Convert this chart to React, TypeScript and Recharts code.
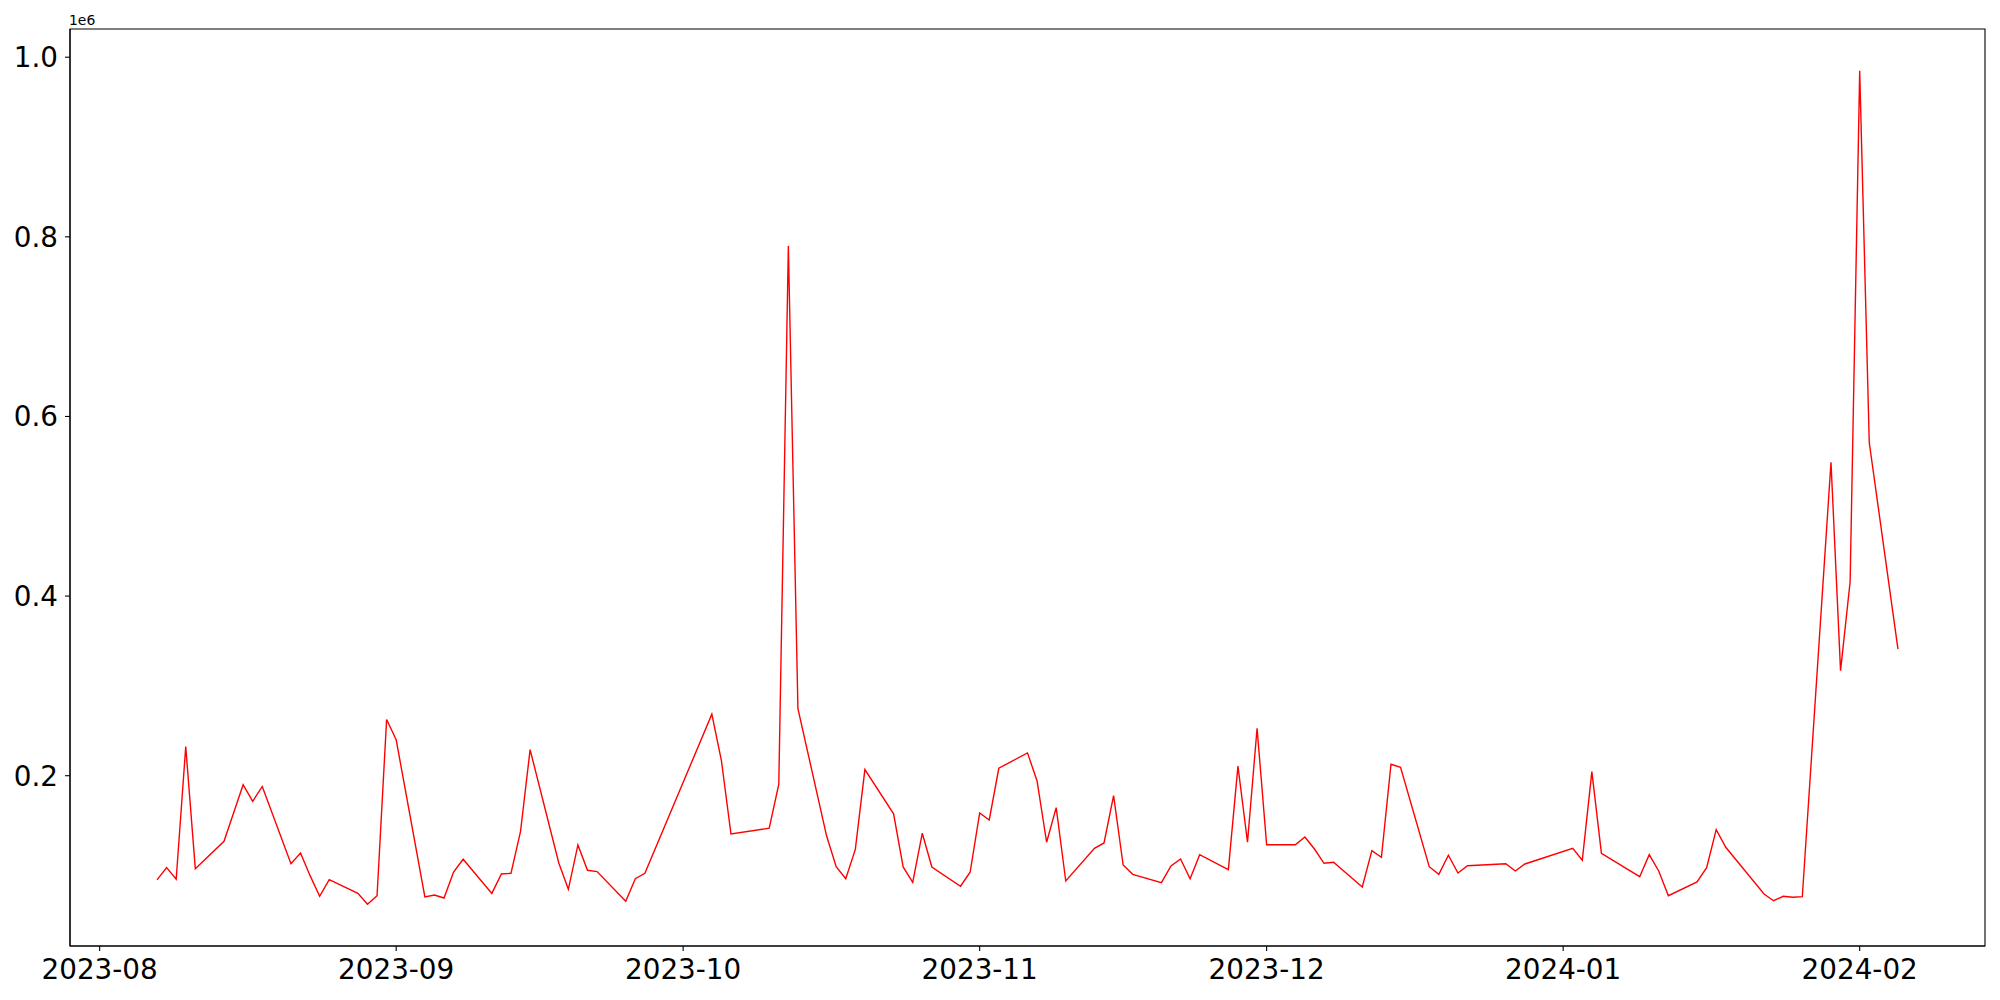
import { LineChart, Line, XAxis, YAxis, ReferenceArea } from 'recharts'

// trading days (KRX) and daily volume
const dates = [
  '2023-08-07', '2023-08-08', '2023-08-09', '2023-08-10', '2023-08-11',
  '2023-08-14', '2023-08-16', '2023-08-17', '2023-08-18',
  '2023-08-21', '2023-08-22', '2023-08-23', '2023-08-24', '2023-08-25',
  '2023-08-28', '2023-08-29', '2023-08-30', '2023-08-31', '2023-09-01',
  '2023-09-04', '2023-09-05', '2023-09-06', '2023-09-07', '2023-09-08',
  '2023-09-11', '2023-09-12', '2023-09-13', '2023-09-14', '2023-09-15',
  '2023-09-18', '2023-09-19', '2023-09-20', '2023-09-21', '2023-09-22',
  '2023-09-25', '2023-09-26', '2023-09-27',
  '2023-10-04', '2023-10-05', '2023-10-06',
  '2023-10-10', '2023-10-11', '2023-10-12', '2023-10-13',
  '2023-10-16', '2023-10-17', '2023-10-18', '2023-10-19', '2023-10-20',
  '2023-10-23', '2023-10-24', '2023-10-25', '2023-10-26', '2023-10-27',
  '2023-10-30', '2023-10-31', '2023-11-01', '2023-11-02', '2023-11-03',
  '2023-11-06', '2023-11-07', '2023-11-08', '2023-11-09', '2023-11-10',
  '2023-11-13', '2023-11-14', '2023-11-15', '2023-11-16', '2023-11-17',
  '2023-11-20', '2023-11-21', '2023-11-22', '2023-11-23', '2023-11-24',
  '2023-11-27', '2023-11-28', '2023-11-29', '2023-11-30', '2023-12-01',
  '2023-12-04', '2023-12-05', '2023-12-06', '2023-12-07', '2023-12-08',
  '2023-12-11', '2023-12-12', '2023-12-13', '2023-12-14', '2023-12-15',
  '2023-12-18', '2023-12-19', '2023-12-20', '2023-12-21', '2023-12-22',
  '2023-12-26', '2023-12-27', '2023-12-28',
  '2024-01-02', '2024-01-03', '2024-01-04', '2024-01-05',
  '2024-01-09', '2024-01-10', '2024-01-11', '2024-01-12',
  '2024-01-15', '2024-01-16', '2024-01-17', '2024-01-18',
  '2024-01-22', '2024-01-23', '2024-01-24', '2024-01-25', '2024-01-26',
  '2024-01-29', '2024-01-30', '2024-01-31', '2024-02-01', '2024-02-02',
  '2024-02-05',
]

const volumes = [
  84000, 97600, 84700, 232400, 96500,
  127000, 190000, 171500, 188000,
  102000, 114000, 88700, 65700, 84200,
  69000, 56800, 66400, 262500, 240000,
  65000, 67200, 63800, 92800, 107000,
  69000, 90600, 91300, 138000, 229000,
  102800, 73500, 122900, 94700, 93200,
  60100, 85400, 91300,
  268500, 216800, 135100,
  141500, 190500, 789700, 274700,
  132800, 98800, 85300, 118000, 206800,
  157600, 98400, 81200, 136000, 98400,
  76900, 92500, 158500, 150700, 208300,
  225400, 194200, 125900, 164500, 82800,
  119200, 125100, 177800, 100600, 90200,
  80900, 99500, 107300, 85300, 112100,
  95400, 210600, 125900, 252900, 123200,
  123200, 131800, 118400, 102500, 103600,
  76100, 116600, 109200, 212800, 209400,
  98700, 90200, 111400, 91700, 99800,
  102000, 93900, 101700,
  119200, 105800, 204500, 113600,
  87600, 112100, 93600, 66400,
  81700, 97600, 140000, 120300,
  68300, 60800, 65700, 64600, 65300,
  549000, 317000, 416000, 985000, 571000,
  341000,
]

const monthTicks = ['2023-08', '2023-09', '2023-10', '2023-11', '2023-12', '2024-01', '2024-02']
const yTicks = [0.2, 0.4, 0.6, 0.8, 1.0]

const toTime = (s: string) => {
  const [y, m, d] = s.split('-').map(Number)
  return Date.UTC(y, m - 1, d || 1)
}

const data = dates.map((d, i) => ({ t: toTime(d), v: volumes[i] }))

// matplotlib-like 5% padding on both axes
const tMin = Math.min(...data.map((d) => d.t))
const tMax = Math.max(...data.map((d) => d.t))
const tPad = (tMax - tMin) * 0.05
const xDomain = [tMin - tPad, tMax + tPad]

const vMin = Math.min(...volumes)
const vMax = Math.max(...volumes)
const vPad = (vMax - vMin) * 0.05
const yDomain = [vMin - vPad, vMax + vPad]

const font = 'DejaVu Sans, sans-serif'
const tickStyle = { fill: '#000', fontSize: 27.8, fontFamily: font }
const lineStyle = { stroke: '#000', strokeWidth: 1.1 }

const fmtMonth = (t: number) => {
  const d = new Date(t)
  return `${d.getUTCFullYear()}-${String(d.getUTCMonth() + 1).padStart(2, '0')}`
}

export default function App() {
  return (
    <div style={{ position: 'absolute', left: 0, top: 0, width: 2000, height: 1000, background: '#fff' }}>
      <LineChart width={2000} height={1000} data={data} margin={{ top: 29, right: 15, bottom: 0, left: 0 }}>
        <XAxis
          dataKey="t"
          type="number"
          domain={xDomain}
          allowDataOverflow
          ticks={monthTicks.map(toTime)}
          tickFormatter={fmtMonth}
          height={54}
          tickSize={5}
          tickMargin={8}
          tick={tickStyle}
          axisLine={lineStyle}
          tickLine={lineStyle}
        />
        <YAxis
          type="number"
          domain={yDomain}
          allowDataOverflow
          ticks={yTicks.map((v) => v * 1e6)}
          tickFormatter={(v: number) => (v / 1e6).toFixed(1)}
          width={70}
          tickSize={5}
          tickMargin={7}
          tick={tickStyle}
          axisLine={lineStyle}
          tickLine={lineStyle}
          label={{
            content: (props: any) => {
              const vb = props.viewBox || {}
              return (
                <text x={(vb.x ?? 0) + (vb.width ?? 70) - 1} y={(vb.y ?? 29) - 4} fontSize={13.9} fontFamily={font} fill="#000">
                  1e6
                </text>
              )
            },
          }}
        />
        {/* frame around the plot area */}
        <ReferenceArea
          x1={xDomain[0]}
          x2={xDomain[1]}
          y1={yDomain[0]}
          y2={yDomain[1]}
          fill="none"
          fillOpacity={0}
          stroke="#000"
          strokeWidth={1.1}
          ifOverflow="visible"
        />
        <Line
          type="linear"
          dataKey="v"
          stroke="#ff0000"
          strokeWidth={1.4}
          dot={false}
          activeDot={false}
          isAnimationActive={false}
        />
      </LineChart>
    </div>
  )
}
